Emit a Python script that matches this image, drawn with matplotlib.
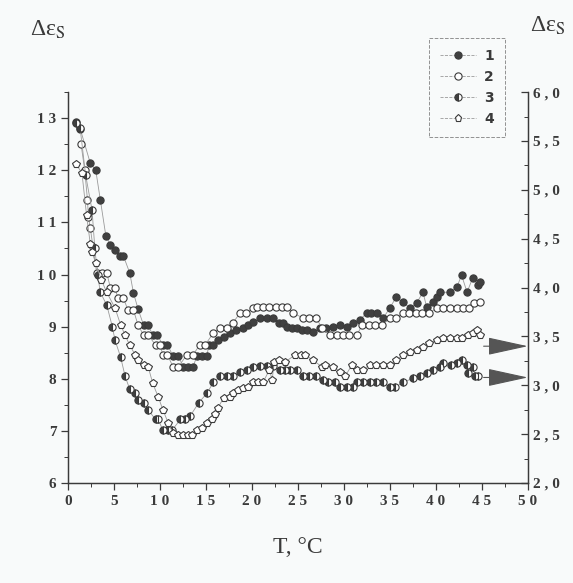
import numpy as np
import matplotlib
matplotlib.use("Agg")
import matplotlib.pyplot as plt
from matplotlib.lines import Line2D
from matplotlib.ticker import MultipleLocator, FixedLocator, FixedFormatter

plt.rcParams['font.family'] = ['Liberation Serif', 'DejaVu Serif']
plt.rcParams['mathtext.fontset'] = 'stix'

# series 1 (filled circles), left axis
x1 = [0.8, 1.3, 2.4, 3.0, 3.5, 4.1, 4.6, 5.1, 5.6, 6.0, 6.7, 7.1, 7.6, 8.2, 8.7, 9.2, 9.7,
      10.3, 10.8, 11.4, 12.0, 12.5, 13.0, 13.6, 14.0, 14.6, 15.1, 15.3, 15.8, 16.3, 16.9,
      17.6, 18.3, 19.0, 19.6, 20.1, 20.9, 21.6, 22.3, 22.9, 23.4, 23.8, 24.3, 24.9, 25.4,
      26.0, 26.6, 27.4, 28.1, 28.8, 29.6, 30.3, 31.0, 31.7, 32.5, 33.0, 33.6, 34.3, 35.0,
      35.7, 36.4, 37.2, 37.9, 38.6, 39.0, 39.7, 40.1, 40.4, 41.5, 42.3, 42.8, 43.4, 44.0,
      44.6, 44.8]
y1 = [12.93, 12.8, 12.14, 12.0, 11.43, 10.74, 10.57, 10.47, 10.36, 10.36, 10.03, 9.65, 9.34,
      9.03, 9.03, 8.84, 8.84, 8.65, 8.65, 8.44, 8.44, 8.23, 8.23, 8.23, 8.44, 8.44, 8.44,
      8.65, 8.65, 8.74, 8.8, 8.88, 8.94, 8.97, 9.03, 9.09, 9.16, 9.16, 9.16, 9.07, 9.07,
      9.0, 8.97, 8.97, 8.94, 8.94, 8.9, 8.97, 8.97, 9.0, 9.03, 9.0, 9.07, 9.13, 9.26, 9.26,
      9.26, 9.17, 9.36, 9.57, 9.47, 9.36, 9.45, 9.66, 9.38, 9.47, 9.57, 9.66, 9.66, 9.76,
      9.99, 9.66, 9.93, 9.8, 9.86]

# series 2 (open circles), left axis
x2 = [1.4, 1.8, 2.1, 2.2, 2.4, 2.7, 3.1, 3.7, 4.2, 4.6, 5.1, 5.4, 6.0, 6.5, 7.1, 7.6, 8.2,
      8.7, 9.5, 10.0, 10.3, 10.8, 11.4, 12.0, 12.9, 13.6, 14.3, 14.9, 15.8, 16.5, 17.3,
      17.9, 18.7, 19.4, 20.1, 20.5, 21.2, 21.9, 22.6, 23.3, 23.8, 24.5, 25.5, 26.2, 27.0,
      27.6, 28.5, 29.2, 29.9, 30.6, 31.4, 32.0, 32.7, 33.4, 34.1, 35.0, 35.7, 36.4, 37.1,
      37.8, 38.5, 39.3, 40.1, 40.8, 41.5, 42.3, 43.0, 43.6, 44.2, 44.8]
y2 = [12.5, 12.0, 11.43, 11.1, 10.9, 10.53, 10.03, 10.03, 10.03, 9.74, 9.74, 9.55, 9.55,
      9.32, 9.32, 9.03, 8.84, 8.84, 8.65, 8.65, 8.46, 8.46, 8.23, 8.23, 8.46, 8.46, 8.65,
      8.65, 8.88, 8.97, 8.97, 9.07, 9.26, 9.26, 9.36, 9.38, 9.38, 9.38, 9.38, 9.38, 9.38,
      9.26, 9.17, 9.17, 9.17, 8.97, 8.84, 8.84, 8.84, 8.84, 8.84, 9.03, 9.03, 9.03, 9.03,
      9.16, 9.16, 9.26, 9.26, 9.26, 9.26, 9.26, 9.36, 9.36, 9.36, 9.36, 9.36, 9.36, 9.45,
      9.47]

# series 3 (half-filled circles), right axis
x3 = [0.9, 1.3, 1.9, 2.6, 2.9, 3.2, 3.5, 4.2, 4.8, 5.1, 5.7, 6.2, 6.7, 7.3, 7.6, 8.2, 8.7,
      9.5, 9.8, 10.3, 10.9, 11.3, 12.2, 12.7, 13.3, 14.2, 15.1, 15.8, 16.5, 17.3, 17.9,
      18.7, 19.5, 20.1, 20.9, 21.6, 22.3, 23.0, 23.6, 24.1, 24.9, 25.5, 26.2, 27.0, 27.7,
      28.3, 29.0, 29.6, 30.3, 31.0, 31.4, 32.1, 32.8, 33.5, 34.2, 35.0, 35.6, 36.4, 37.5,
      38.3, 39.0, 39.7, 40.4, 40.8, 41.7, 42.3, 42.8, 43.4, 43.5, 44.0, 44.3, 44.6]
y3 = [5.68, 5.63, 5.15, 4.79, 4.40, 4.13, 3.95, 3.82, 3.60, 3.46, 3.29, 3.09, 2.96, 2.92,
      2.85, 2.82, 2.75, 2.65, 2.65, 2.54, 2.54, 2.54, 2.65, 2.65, 2.69, 2.82, 2.92, 3.03,
      3.09, 3.09, 3.09, 3.14, 3.16, 3.19, 3.20, 3.20, 3.20, 3.16, 3.16, 3.16, 3.16, 3.09,
      3.09, 3.09, 3.05, 3.03, 3.03, 2.98, 2.98, 2.98, 3.03, 3.03, 3.03, 3.03, 3.03, 2.98,
      2.98, 3.03, 3.07, 3.10, 3.13, 3.16, 3.19, 3.23, 3.21, 3.23, 3.26, 3.21, 3.13, 3.19,
      3.10, 3.10]

# series 4 (open pentagons), right axis
x4 = [0.9, 1.5, 2.0, 2.4, 2.6, 3.0, 3.6, 4.2, 5.1, 5.7, 6.2, 6.7, 7.3, 7.6, 8.2, 8.7, 9.2,
      9.8, 10.3, 10.9, 11.4, 12.0, 12.5, 13.0, 13.5, 14.0, 14.6, 15.1, 15.6, 16.0, 16.3,
      16.9, 17.6, 17.9, 18.5, 19.0, 19.6, 20.1, 20.7, 21.2, 21.9, 22.2, 22.4, 22.9, 23.6,
      24.7, 25.3, 25.8, 26.6, 27.6, 27.9, 28.8, 29.6, 30.1, 30.9, 31.4, 32.1, 32.8, 33.5,
      34.2, 35.0, 35.7, 36.4, 37.2, 37.9, 38.6, 39.3, 40.1, 40.8, 41.5, 42.3, 42.9, 43.5,
      44.0, 44.5, 44.8]
y4 = [5.26, 5.17, 4.74, 4.45, 4.36, 4.25, 4.08, 3.95, 3.79, 3.62, 3.51, 3.41, 3.31, 3.26,
      3.21, 3.19, 3.02, 2.88, 2.75, 2.61, 2.51, 2.49, 2.49, 2.49, 2.49, 2.54, 2.56, 2.61,
      2.66, 2.71, 2.77, 2.87, 2.88, 2.92, 2.95, 2.97, 2.98, 3.03, 3.03, 3.03, 3.16, 3.05,
      3.24, 3.26, 3.24, 3.31, 3.31, 3.31, 3.26, 3.19, 3.21, 3.19, 3.14, 3.09, 3.21, 3.16,
      3.16, 3.21, 3.21, 3.21, 3.21, 3.26, 3.31, 3.34, 3.36, 3.39, 3.43, 3.46, 3.48, 3.48,
      3.48, 3.48, 3.51, 3.54, 3.57, 3.51]

labels = ['1', '2', '3', '4']
arrow_levels = [3.40, 3.08]

bg = '#f8fafa'
ink = '#3a3a3a'
line_c = '#9a9a9a'

fig = plt.figure(figsize=(5.73, 5.83), dpi=100, facecolor=bg)
ax = fig.add_axes([0.119, 0.1715, 0.802, 0.6705])
ax.set_facecolor(bg)
ax2 = ax.twinx()

ms = 5.2
kw = dict(color=line_c, lw=0.6, markeredgewidth=0.8, markeredgecolor=ink)
ax.plot(x1, y1, marker='o', markersize=ms, markerfacecolor='#404040', **kw)
ax.plot(x2, y2, marker='o', markersize=ms, markerfacecolor='white', **kw)
ax2.plot(x3, y3, marker='o', markersize=ms, fillstyle='left', markerfacecolor='#404040',
         markerfacecoloralt='white', **kw)
ax2.plot(x4, y4, marker='p', markersize=ms + 0.8, markerfacecolor='white', **kw)

ax.set_xlim(0, 50)
ax.set_ylim(6, 13.5)
ax2.set_ylim(2, 6)

for a in (ax, ax2):
    a.spines['top'].set_visible(False)
    for s in a.spines.values():
        s.set_color(ink)
        s.set_linewidth(0.9)

tick_font = matplotlib.font_manager.FontProperties(
    family=['Liberation Serif', 'DejaVu Serif'], size=11, weight='bold')

xt = np.arange(0, 51, 5)
ax.xaxis.set_major_locator(FixedLocator(xt))
ax.xaxis.set_major_formatter(FixedFormatter([' '.join(str(v)) for v in xt]))
ax.xaxis.set_minor_locator(MultipleLocator(2.5))

yt = np.arange(6, 14)
ax.yaxis.set_major_locator(FixedLocator(yt))
ax.yaxis.set_major_formatter(FixedFormatter([' '.join(str(v)) for v in yt]))
ax.yaxis.set_minor_locator(MultipleLocator(0.5))

rt = np.arange(2, 6.01, 0.5)
ax2.yaxis.set_major_locator(FixedLocator(rt))
ax2.yaxis.set_major_formatter(FixedFormatter([' , '.join(f'{v:.1f}'.split('.')) for v in rt]))
ax2.yaxis.set_minor_locator(MultipleLocator(0.25))

ax.tick_params(axis='both', which='major', direction='out', length=5, width=0.9, color=ink)
ax.tick_params(axis='both', which='minor', direction='out', length=3, width=0.7, color=ink)
ax2.tick_params(axis='y', which='major', direction='in', length=5, width=0.9, color=ink)
ax2.tick_params(axis='y', which='minor', direction='in', length=3, width=0.7, color=ink)
for lab in ax.get_xticklabels() + ax.get_yticklabels() + ax2.get_yticklabels():
    lab.set_fontproperties(tick_font)
    lab.set_color(ink)

# arrows pointing to the right axis
for lvl in arrow_levels:
    ax2.annotate('', xy=(50, lvl), xytext=(45.2, lvl),
                 arrowprops=dict(arrowstyle='-|>,head_length=1.6,head_width=0.35',
                                 mutation_scale=16, color='#555555', lw=0.8,
                                 shrinkA=0, shrinkB=0))

# legend
lkw = dict(kw, ls='--', markersize=ms)
handles = [
    Line2D([], [], marker='o', markerfacecolor='#404040', **lkw),
    Line2D([], [], marker='o', markerfacecolor='white', **lkw),
    Line2D([], [], marker='o', fillstyle='left', markerfacecolor='#404040',
           markerfacecoloralt='white', **lkw),
    Line2D([], [], marker='p', markerfacecolor='white', **lkw),
]
leg = fig.legend(handles, labels, loc='upper left', bbox_to_anchor=(0.736, 0.947),
                 frameon=True, fancybox=False, handlelength=2.6, labelspacing=0.5,
                 borderpad=0.8, handletextpad=0.6,
                 prop=dict(family='DejaVu Sans', size=10, weight='bold'))
frame = leg.get_frame()
frame.set_linestyle('--')
frame.set_edgecolor('#777777')
frame.set_linewidth(0.7)
frame.set_facecolor(bg)
for t in leg.get_texts():
    t.set_color(ink)

ylab = 'Δε$_{\\rm S}$'
fig.text(0.053, 0.938, ylab, fontsize=17, color=ink)
fig.text(0.925, 0.945, ylab, fontsize=17, color=ink)
fig.text(0.52, 0.052, 'T, °C', fontsize=17, color=ink, ha='center')

fig.savefig('out.png', dpi=100, facecolor=bg)
